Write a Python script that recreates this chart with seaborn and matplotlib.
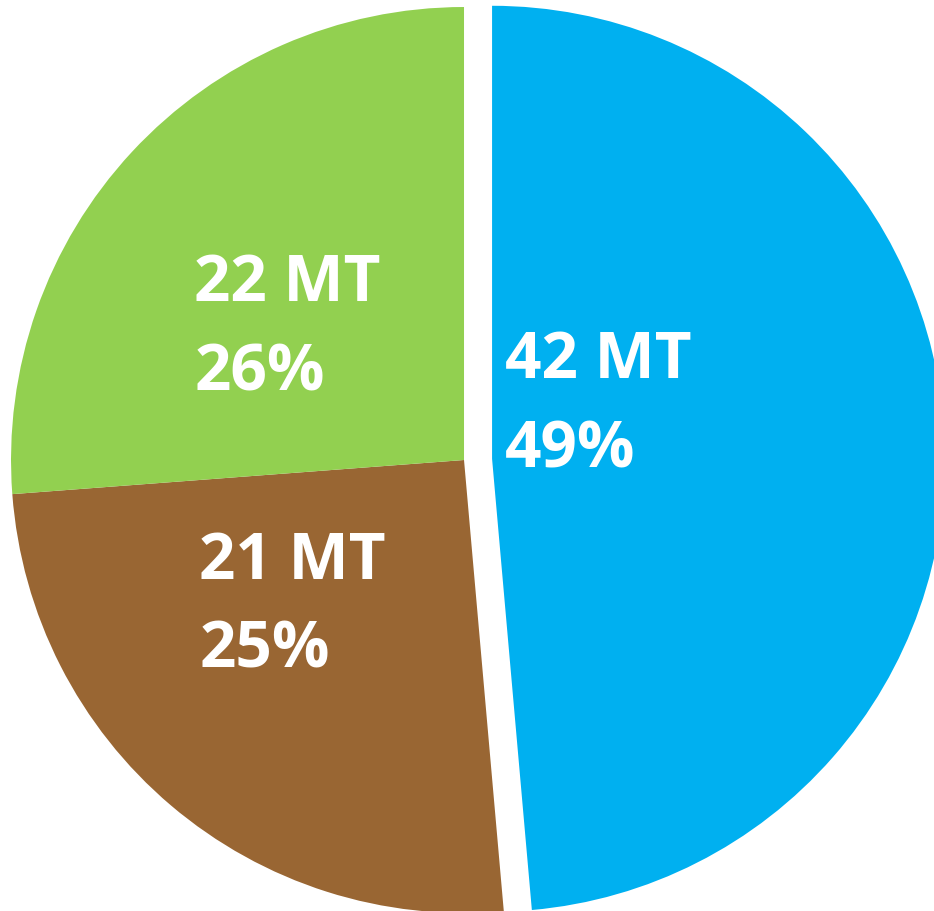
import matplotlib
matplotlib.use("Agg")
import matplotlib.pyplot as plt
import seaborn as sns

# Data
categories = ["Blue segment", "Brown segment", "Green segment"]
mt_labels = ["42 MT", "21 MT", "22 MT"]
percent_labels = ["49%", "25%", "26%"]
# slice shares as drawn in the picture (percent)
slice_shares = [48.6, 25.2, 26.2]

colors = ["#00B0F0", "#996633", "#92D050"]
explode = [0.062, 0, 0]

sns.set_theme(style="white")
plt.rcParams["font.family"] = ["Open Sans", "DejaVu Sans"]

fig = plt.figure(figsize=(9.34, 9.11), dpi=100)
ax = fig.add_axes([0, 0, 1, 1])
ax.pie(slice_shares, colors=colors, explode=explode, startangle=90,
       counterclock=False, radius=1.0,
       wedgeprops=dict(linewidth=0, edgecolor="none"))
ax.set_xlim(-1.0243, 1.0375)
ax.set_ylim(-0.9956, 1.0155)
ax.set_aspect("equal")
ax.axis("off")

# label anchor positions (left/baseline) for each slice: (x, y first line, y second line)
label_pos = [(0.090, 0.181, -0.0155), (-0.584, -0.263, -0.459), (-0.595, 0.351, 0.1545)]
for (x, y1, y2), mt, pct in zip(label_pos, mt_labels, percent_labels):
    ax.text(x, y1, mt, color="white", fontsize=46, fontweight="bold",
            ha="left", va="baseline")
    ax.text(x, y2, pct, color="white", fontsize=46, fontweight="bold",
            ha="left", va="baseline")

fig.savefig("out.png", dpi=100)
